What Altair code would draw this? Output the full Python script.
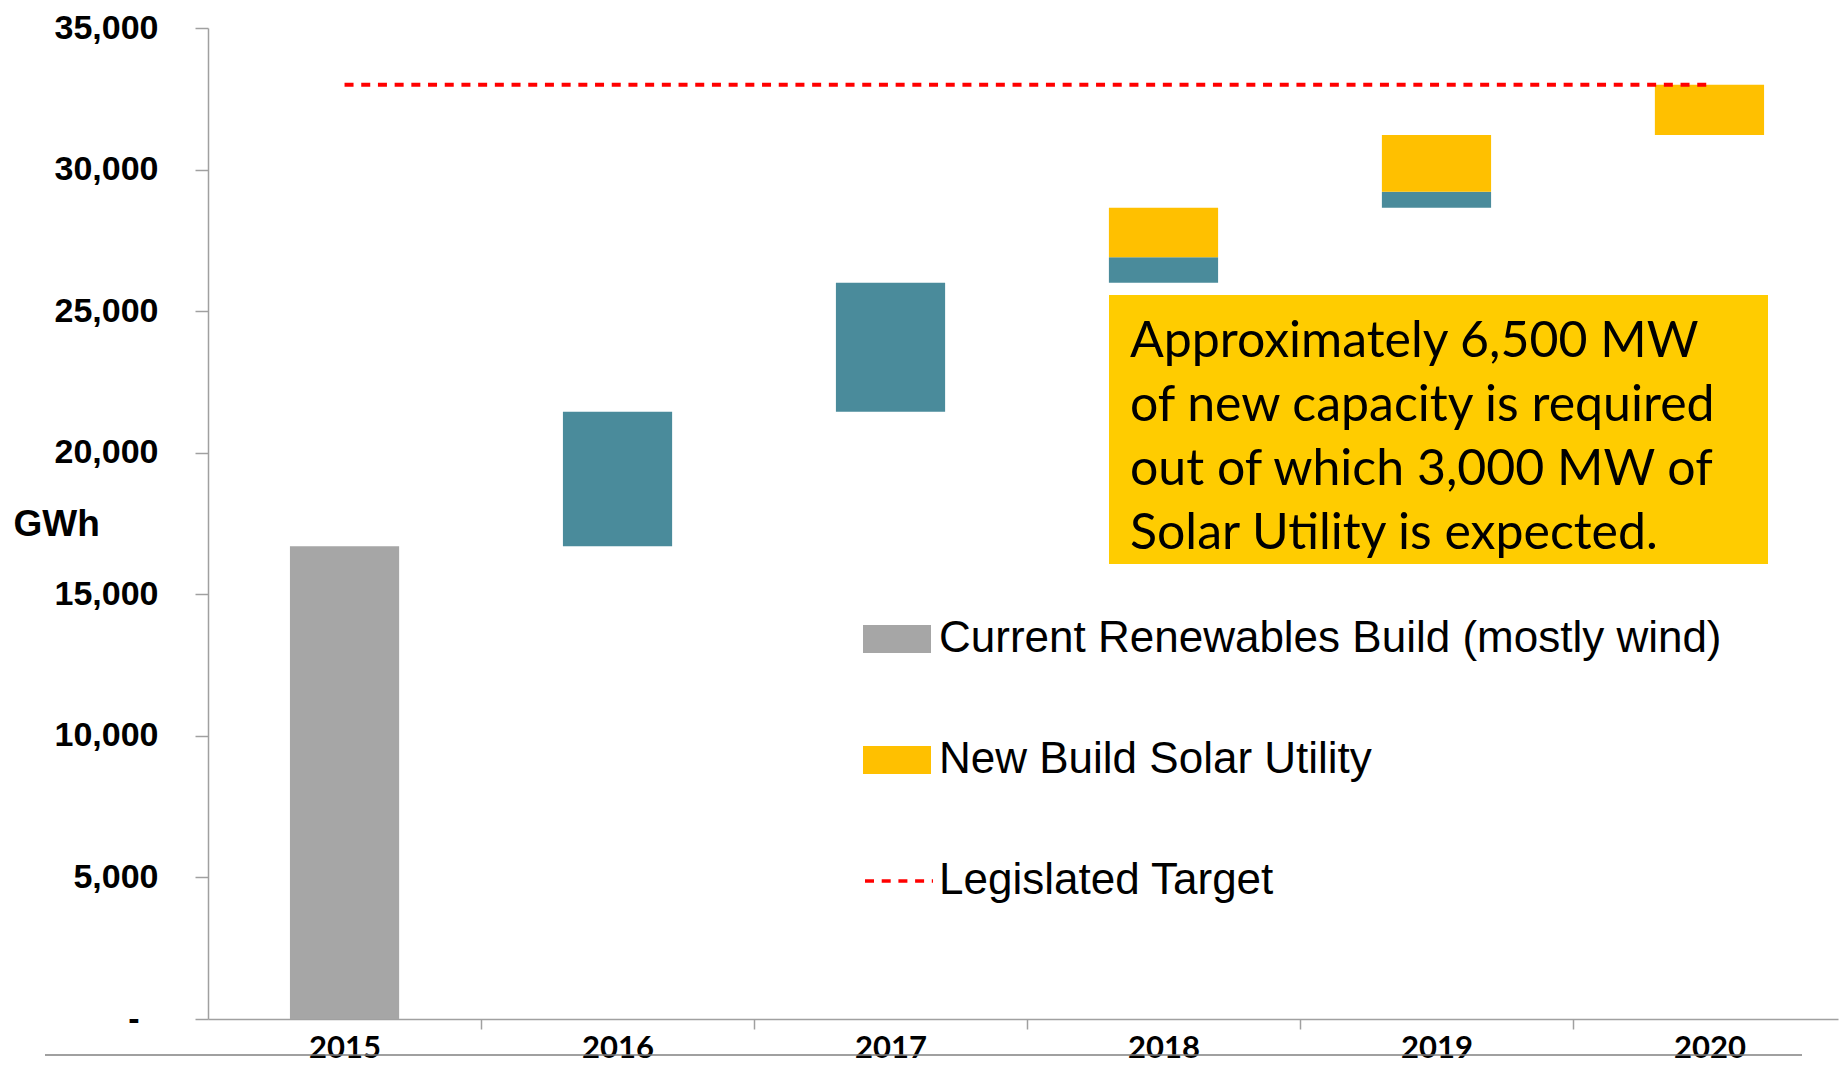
import altair as alt
import pandas as pd

# ---- data ----
years = ["2015", "2016", "2017", "2018", "2019", "2020"]
current_build = [16700, 0, 0, 0, 0, 0]          # grey
pipeline_build = [0, 4750, 4550, 900, 570, 0]   # teal (no legend entry)
solar_build = [0, 0, 0, 1750, 2000, 1780]       # yellow
target_years = ["2015", "2020"]
target_value = [33000, 33000]
y_ticks = [0, 5000, 10000, 15000, 20000, 25000, 30000, 35000]

CUR = "Current Renewables Build (mostly wind)"
SOL = "New Build Solar Utility"
TGT = "Legislated Target"
PIP = "Pipeline"

note_lines = [
    "Approximately 6,500 MW",
    "of new capacity is required",
    "out of which 3,000 MW of",
    "Solar Utility is expected.",
]

GREY = "#A6A6A6"
YEL = "#FFC000"
TEAL = "#4A8B9B"
RED = "#FF0000"
BOX = "#FFCC00"
ARIAL = "Liberation Sans, Arial, sans-serif"
GILL = "Lato, Open Sans, sans-serif"
DASH = [9, 7.7]
STEP = 273

rows = []
cum = 0
for i, yr in enumerate(years):
    for series, vals in ((CUR, current_build), (PIP, pipeline_build), (SOL, solar_build)):
        amt = vals[i]
        if amt > 0:
            rows.append({"year": yr, "series": series, "start": cum, "end": cum + amt})
            cum += amt
bars_df = pd.DataFrame(rows)
target_df = pd.DataFrame({"year": target_years, "start": target_value, "series": [TGT, TGT]})

x_scale = alt.Scale(domain=years, paddingInner=0.6, paddingOuter=0.2855, align=0.5257)
y_scale = alt.Scale(domain=[0, 35000], nice=False)

common_legend = dict(
    title=None,
    orient="none",
    legendX=655,
    symbolSize=4624,
    labelFont=ARIAL,
    labelFontSize=44,
    labelColor="black",
    labelLimit=2000,
    rowPadding=65,
)

bar_legend = alt.Legend(
    legendY=577,
    values=[CUR, SOL],
    symbolType="M-1,-0.41H1V0.41H-1Z",
    symbolStrokeWidth=0,
    symbolOpacity=1,
    labelOffset=8,
    **common_legend,
)

line_legend = alt.Legend(
    legendY=817,
    symbolType="stroke",
    symbolStrokeColor=RED,
    symbolStrokeWidth=3.5,
    labelOffset=4,
    **common_legend,
)

bars = alt.Chart(bars_df).mark_bar().encode(
    x=alt.X(
        "year:N",
        scale=x_scale,
        axis=alt.Axis(
            title="",
            labelAngle=0,
            tickOffset=STEP / 2,
            labelOffset=-STEP / 2,
            domainColor="#A0A0A0",
            domainWidth=1.5,
            tickColor="#A0A0A0",
            tickWidth=1.5,
            tickSize=10,
            labelFont=GILL,
            labelFontWeight="bold",
            labelFontSize=31,
            labelBaseline="alphabetic",
            labelPadding=28,
            labelColor="black",
        ),
    ),
    y=alt.Y(
        "start:Q",
        scale=y_scale,
        axis=alt.Axis(
            title="GWh",
            values=y_ticks,
            format=",.0f",
            labelExpr="datum.value === 0 ? '-\u00a0\u00a0\u2060' : datum.label",
            grid=False,
            domainColor="#A0A0A0",
            domainWidth=1.5,
            tickColor="#A0A0A0",
            tickWidth=1.5,
            tickSize=13,
            labelPadding=37,
            labelFont=ARIAL,
            labelFontWeight="bold",
            labelFontSize=34,
            labelColor="black",
            titleAngle=0,
            titleX=-195,
            titleY=496,
            titleAlign="left",
            titleBaseline="middle",
            titleFont=ARIAL,
            titleFontSize=37,
            titleFontWeight="bold",
            titleColor="black",
        ),
    ),
    y2="end:Q",
    color=alt.Color(
        "series:N",
        scale=alt.Scale(domain=[CUR, SOL, PIP], range=[GREY, YEL, TEAL]),
        legend=bar_legend,
    ),
)

target = alt.Chart(target_df).mark_line(color=RED, strokeWidth=4).encode(
    x=alt.X("year:N", scale=x_scale),
    y=alt.Y("start:Q", scale=y_scale),
    strokeDash=alt.StrokeDash(
        "series:N",
        scale=alt.Scale(domain=[TGT], range=[DASH]),
        legend=line_legend,
    ),
)

one = alt.Data(values=[{"k": 1}])

box = alt.Chart(one).mark_rect(color=BOX).encode(
    x=alt.value(901), x2=alt.value(1560), y=alt.value(267), y2=alt.value(536)
)

note = alt.Chart(one).mark_text(
    align="left", baseline="alphabetic", font=GILL, fontSize=50, lineHeight=64, color="black"
).encode(x=alt.value(922), y=alt.value(329), text=alt.value(note_lines))

bottom_line = alt.Chart(one).mark_rule(color="#808080", strokeWidth=1.5).encode(
    x=alt.value(-163), x2=alt.value(1594), y=alt.value(1027)
)

chart = alt.layer(bottom_line, bars, target, box, note).properties(
    width=1630,
    height=991,
    padding={"left": 200, "top": 20, "right": 1, "bottom": 45},
    autosize=alt.AutoSizeParams(type="none"),
).configure_view(stroke=None)

chart.save("out.html", embed_options={"renderer": "svg", "actions": False})
